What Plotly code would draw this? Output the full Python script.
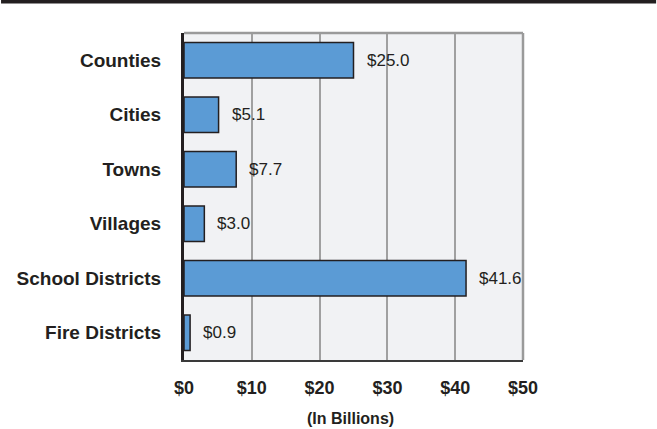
import plotly.graph_objects as go

categories = ["Counties", "Cities", "Towns", "Villages", "School Districts", "Fire Districts"]
values = [25.0, 5.1, 7.7, 3.0, 41.6, 0.9]
value_labels = ["$25.0", "$5.1", "$7.7", "$3.0", "$41.6", "$0.9"]
x_ticks = [0, 10, 20, 30, 40, 50]
x_tick_labels = ["$0", "$10", "$20", "$30", "$40", "$50"]
axis_title = "(In Billions)"

FONT = "Liberation Sans, Arial, sans-serif"
DARK = "#231f20"

fig = go.Figure()
fig.add_trace(go.Bar(
    x=values, y=categories, orientation="h",
    width=0.65,
    marker=dict(color="#5b9bd5", line=dict(color=DARK, width=1.5)),
    hoverinfo="skip",
))

annotations = []
for c, v, t in zip(categories, values, value_labels):
    annotations.append(dict(x=v, y=c, xref="x", yref="y", text=t, showarrow=False,
                            xanchor="left", yanchor="middle", xshift=11,
                            font=dict(family=FONT, size=17, color=DARK)))
annotations.append(dict(x=0.49, y=-0.178, xref="paper", yref="paper", text=axis_title,
                        showarrow=False, xanchor="center", yanchor="middle",
                        font=dict(family=FONT, size=16, color=DARK, weight="bold")))

W, H = 657, 429
ml, mr, mt, mb = 183.5, 133.5, 33, 68.5
pw, ph = W - ml - mr, H - mt - mb

shapes = [
    # top dark band
    dict(type="rect", xref="paper", yref="paper",
         x0=-ml / pw, x1=1 + mr / pw, y0=1 + (mt - 3.5) / ph, y1=1 + mt / ph,
         fillcolor=DARK, line=dict(width=0), layer="above"),
    # top border
    dict(type="line", xref="paper", yref="paper", x0=0, x1=1, y0=1, y1=1,
         line=dict(color="#9a9a9a", width=2.5), layer="above"),
    # right border
    dict(type="line", xref="paper", yref="paper", x0=1, x1=1, y0=0, y1=1,
         line=dict(color="#9a9a9a", width=2.5), layer="above"),
]

fig.update_layout(
    width=W, height=H,
    margin=dict(l=ml, r=mr, t=mt, b=mb, pad=0, autoexpand=False),
    paper_bgcolor="white", plot_bgcolor="#f1f2f4",
    showlegend=False,
    annotations=annotations,
    shapes=shapes,
    bargap=0.35,
    xaxis=dict(range=[0, 50], tickvals=x_ticks, ticktext=x_tick_labels,
               showgrid=True, gridcolor="#a0a0a0", gridwidth=1.6,
               zeroline=False, showline=True, linecolor="#3a3a3a", linewidth=2,
               ticks="", ticklabelstandoff=10, automargin=False,
               tickfont=dict(family=FONT, size=18, color=DARK, weight="bold"),
               fixedrange=True),
    yaxis=dict(categoryorder="array", categoryarray=categories, autorange="reversed",
               showgrid=False, zeroline=False, showline=True, linecolor=DARK, linewidth=3,
               ticks="", ticklabelstandoff=16, automargin=False,
               tickfont=dict(family=FONT, size=19, color=DARK, weight="bold"),
               fixedrange=True),
)

fig.write_html("out.html", config={"displayModeBar": False},
               post_script="document.body.style.margin='0';document.body.style.overflow='hidden';")
